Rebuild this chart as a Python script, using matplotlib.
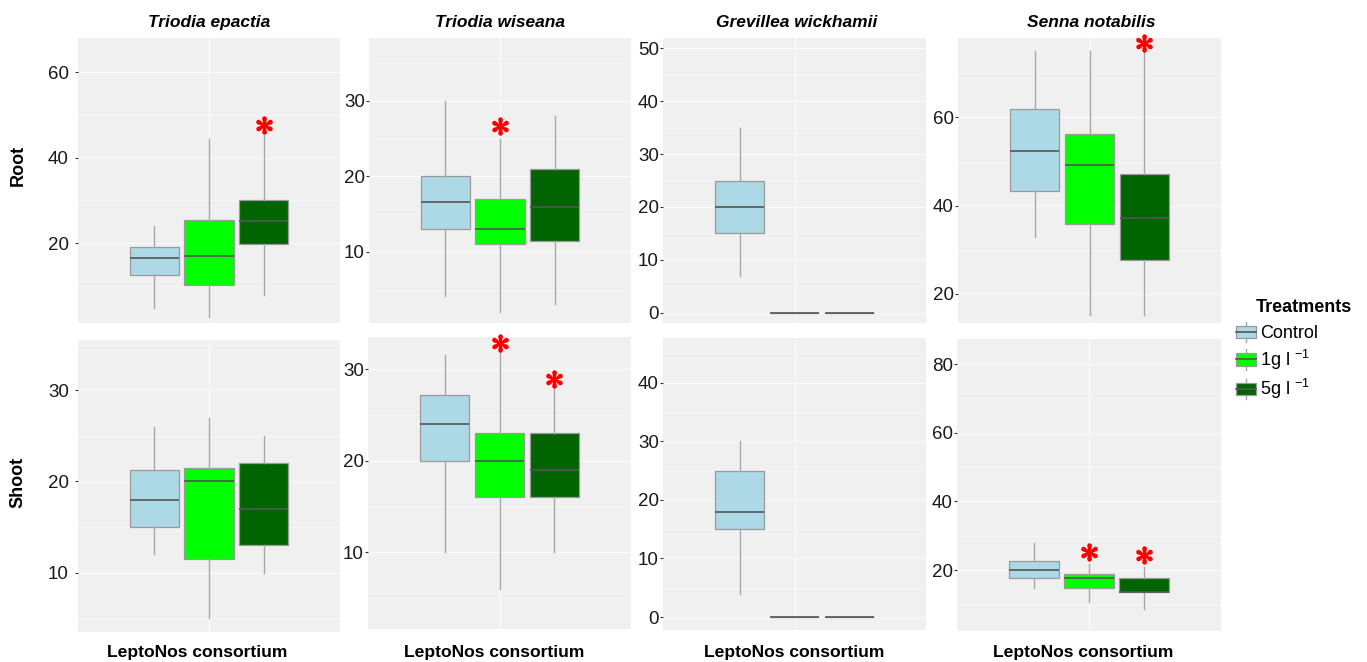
import matplotlib
matplotlib.use("Agg")
import matplotlib.pyplot as plt
from matplotlib.legend_handler import HandlerBase
from matplotlib.lines import Line2D
from matplotlib.patches import Rectangle
from matplotlib.ticker import MultipleLocator

plt.rcParams["font.family"] = ["Liberation Sans", "DejaVu Sans"]
plt.rcParams["mathtext.default"] = "regular"

species = ["Triodia epactia", "Triodia wiseana", "Grevillea wickhamii", "Senna notabilis"]
tissues = ["Root", "Shoot"]
treatments = ["Control", "1g l $^{-1}$", "5g l $^{-1}$"]
xlabel = "LeptoNos consortium"

# box stats: [whisker low, q1, median, q3, whisker high]
# rows: Control, 1g l-1, 5g l-1
root_epactia = [[4.7, 12.6, 16.5, 19.2, 24.0], [2.7, 10.2, 16.9, 25.4, 44.3], [7.8, 19.8, 25.1, 30.0, 45.2]]
root_wiseana = [[4.2, 13.0, 16.6, 20.0, 30.0], [2.0, 11.1, 13.1, 17.0, 25.0], [3.1, 11.5, 16.0, 21.0, 28.0]]
root_wickhamii = [[7.0, 15.0, 20.0, 25.0, 35.0], [0, 0, 0, 0, 0], [0, 0, 0, 0, 0]]
root_notabilis = [[33.0, 43.4, 52.5, 61.9, 75.1], [15.2, 35.8, 49.1, 56.3, 75.1], [15.2, 27.7, 37.1, 47.2, 75.1]]
shoot_epactia = [[12.0, 15.0, 18.0, 21.2, 26.0], [5.0, 11.5, 20.0, 21.5, 27.0], [10.0, 13.0, 17.0, 22.0, 25.0]]
shoot_wiseana = [[10.0, 20.0, 24.0, 27.2, 31.5], [6.0, 16.0, 20.0, 23.0, 32.0], [10.0, 16.0, 19.0, 23.0, 28.0]]
shoot_wickhamii = [[4.0, 15.0, 18.0, 25.0, 30.0], [0, 0, 0, 0, 0], [0, 0, 0, 0, 0]]
shoot_notabilis = [[14.8, 17.8, 20.0, 22.6, 28.0], [10.8, 14.7, 17.8, 19.0, 21.8], [8.8, 13.7, 13.7, 17.8, 20.8]]

# significance stars: (treatment index, y)
root_stars = [[(2, 47.6)], [(1, 26.7)], [], [(2, 76.8)]]
shoot_stars = [[], [(1, 32.8), (2, 28.9)], [], [(1, 25.3), (2, 24.3)]]

root_ylim = [(1.3, 68.0), (0.6, 38.3), (-1.9, 51.9), (13.4, 78.0)]
shoot_ylim = [(3.5, 35.5), (1.6, 33.5), (-2.2, 47.6), (2.3, 87.3)]
root_step = [20, 10, 10, 20]
shoot_step = [10, 10, 10, 20]

data = [[root_epactia, root_wiseana, root_wickhamii, root_notabilis],
        [shoot_epactia, shoot_wiseana, shoot_wickhamii, shoot_notabilis]]
stars = [root_stars, shoot_stars]
ylims = [root_ylim, shoot_ylim]
steps = [root_step, shoot_step]

colors = ["#ADD8E6", "#00FF00", "#006400"]
EDGE = "#9a9a9a"
WHISK = "#a8a8a8"
MEDIAN = "#555555"
PANEL_BG = "#F0F0F0"

W, H = 1367, 662
# panel boxes in pixels (left, top, right, bottom)
panel_px = [
    [(78, 38, 340, 323), (369, 38, 631, 323), (663, 38, 926, 323), (958, 38, 1221, 323)],
    [(78, 340, 340, 632), (368, 337, 631, 629), (663, 338, 926, 630), (957, 339, 1221, 631)],
]
title_x = [209, 500, 797, 1091]
xlabel_x = [197, 494, 794, 1083]
positions = [0.75, 1.0, 1.25]

fig = plt.figure(figsize=(W / 100, H / 100), dpi=100)

for r in range(2):
    for c in range(4):
        left, top, right, bottom = panel_px[r][c]
        ax = fig.add_axes([left / W, 1 - bottom / H, (right - left) / W, (bottom - top) / H])
        ax.set_facecolor(PANEL_BG)
        stats = [dict(whislo=s[0], q1=s[1], med=s[2], q3=s[3], whishi=s[4]) for s in data[r][c]]
        bp = ax.bxp(stats, positions=positions, widths=0.225, showcaps=False, showfliers=False,
                    patch_artist=True,
                    boxprops=dict(edgecolor=EDGE, linewidth=0.9),
                    whiskerprops=dict(color=WHISK, linewidth=1.0),
                    medianprops=dict(color=MEDIAN, linewidth=1.2))
        for box, col in zip(bp["boxes"], colors):
            box.set_facecolor(col)
        for k, y in stars[r][c]:
            ax.plot(positions[k], y, marker=r"$\ast$", color="red", ms=12, mew=1.3,
                    ls="none", clip_on=False, zorder=5)

        ax.set_xlim(0.4, 1.6)
        ax.set_ylim(*ylims[r][c])
        ax.set_xticks([1.0])
        ax.set_xticklabels([""])
        ax.tick_params(axis="x", length=0)
        ax.yaxis.set_major_locator(MultipleLocator(steps[r][c]))
        ax.yaxis.set_minor_locator(MultipleLocator(steps[r][c] / 2))
        ax.tick_params(axis="y", which="major", length=2.5, color="#333333",
                       labelsize=13.5, labelcolor="#1a1a1a", pad=4 if c == 0 else 0.5)
        ax.tick_params(axis="y", which="minor", length=0)
        ax.set_axisbelow(True)
        ax.grid(which="major", color="#fafafa", linewidth=0.9)
        ax.grid(which="minor", axis="y", color="#fafafa", linewidth=0.5)
        for sp in ax.spines.values():
            sp.set_visible(False)

        if r == 0:
            fig.text(title_x[c] / W, 1 - 27 / H, species[c], fontsize=12.5, fontweight="bold",
                     fontstyle="italic", ha="center", va="baseline")
        else:
            fig.text(xlabel_x[c] / W, 1 - 657 / H, xlabel, fontsize=12.6, fontweight="bold",
                     ha="center", va="baseline")

fig.text(18 / W, 1 - 165 / H, tissues[0], rotation=90, fontsize=13, fontweight="bold",
         ha="center", va="center")
fig.text(18 / W, 1 - 482 / H, tissues[1], rotation=90, fontsize=13, fontweight="bold",
         ha="center", va="center")


class BoxKey(HandlerBase):
    def create_artists(self, legend, orig_handle, xdescent, ydescent, width, height,
                       fontsize, trans):
        x0, y0 = -xdescent, -ydescent
        whisk = Line2D([x0 + width / 2] * 2, [y0 - 0.25 * height, y0 + 1.25 * height],
                       color=WHISK, lw=1, transform=trans)
        box = Rectangle((x0, y0 + 0.05 * height), width, 0.9 * height,
                        facecolor=orig_handle.get_facecolor(), edgecolor=EDGE, lw=0.9,
                        transform=trans)
        med = Line2D([x0, x0 + width], [y0 + height / 2] * 2, color=MEDIAN, lw=1.2,
                     transform=trans)
        return [whisk, box, med]


handles = [Rectangle((0, 0), 1, 1, facecolor=col) for col in colors]
fig.text(1304 / W, 1 - 307 / H, "Treatments", fontsize=13, fontweight="bold",
         ha="center", va="center")
fig.legend(handles, treatments, loc="upper left", bbox_to_anchor=(1236 / W, 1 - 325 / H),
           frameon=False, handler_map={Rectangle: BoxKey()}, fontsize=13,
           handlelength=1.1, handleheight=0.8, handletextpad=0.25, labelspacing=0.3,
           borderpad=0, borderaxespad=0)

fig.savefig("out.png", dpi=100)
